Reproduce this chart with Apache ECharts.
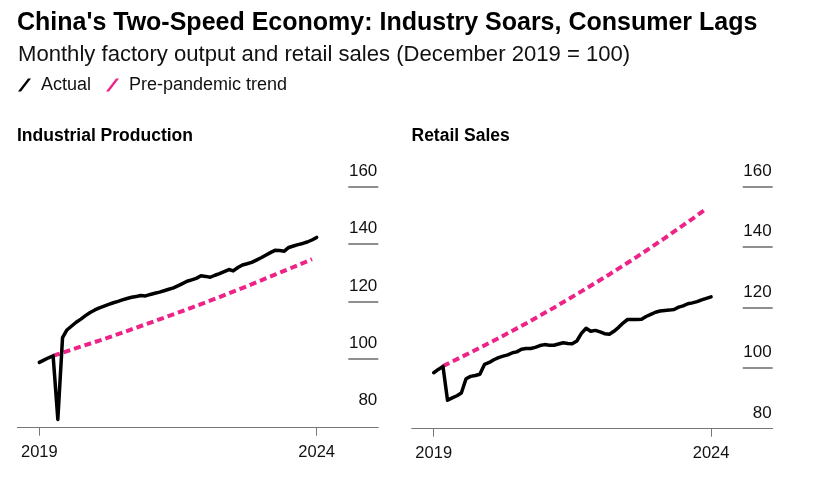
<!DOCTYPE html>
<html>
<head>
<meta charset="utf-8">
<script src="https://cdn.jsdelivr.net/npm/echarts@6/dist/echarts.min.js"></script>
<style>
  html, body { margin: 0; padding: 0; background: #fff; }
  #chart { width: 817px; height: 486px; }
</style>
</head>
<body>
<div id="chart"></div>
<script>
// ---- Data ----
const months = [
  '2019-09','2019-10','2019-11','2019-12',
  '2020-01','2020-02','2020-03','2020-04','2020-05','2020-06','2020-07','2020-08','2020-09','2020-10','2020-11','2020-12',
  '2021-01','2021-02','2021-03','2021-04','2021-05','2021-06','2021-07','2021-08','2021-09','2021-10','2021-11','2021-12',
  '2022-01','2022-02','2022-03','2022-04','2022-05','2022-06','2022-07','2022-08','2022-09','2022-10','2022-11','2022-12',
  '2023-01','2023-02','2023-03','2023-04','2023-05','2023-06','2023-07','2023-08','2023-09','2023-10','2023-11','2023-12',
  '2024-01','2024-02','2024-03','2024-04','2024-05','2024-06','2024-07','2024-08','2024-09'
];

const industrialActual = [
  98.7, 99.5, 100.3, 101.0,
  78.8, 107.3, 110.0, 111.4, 112.7, 113.8, 115.0, 116.1, 117.0, 117.7, 118.3, 118.9,
  119.5, 120.0, 120.5, 121.0, 121.4, 121.7, 122.0, 121.9, 122.4, 122.8, 123.2, 123.7,
  124.2, 124.7, 125.4, 126.2, 127.0, 127.5, 128.0, 128.9, 128.7, 128.4, 129.1, 129.7,
  130.4, 131.1, 130.6, 131.8, 132.7, 133.1, 133.6, 134.4, 135.2, 136.1, 137.0, 137.8,
  137.7, 137.5, 138.8, 139.3, 139.8, 140.2, 140.7, 141.4, 142.3
];

const retailActual = [
  98.5, 99.6, 100.6, 89.4,
  90.2, 90.9, 91.8, 96.5, 97.3, 97.6, 98.0, 101.3, 101.9, 102.8, 103.5, 104.0,
  104.4, 105.1, 105.4, 106.3, 106.5, 106.5, 106.9, 107.5, 107.8, 107.6, 107.6, 108.0,
  108.4, 108.2, 108.1, 109.0, 111.5, 113.2, 112.2, 112.5, 112.0, 111.4, 111.2, 112.2,
  113.5, 115.0, 116.1, 116.1, 116.1, 116.2, 117.1, 117.8, 118.5, 118.9, 119.1, 119.2,
  119.4, 120.2, 120.6, 121.3, 121.6, 122.0, 122.6, 123.1, 123.6
];

const industrialTrendMonths = ['2019-12','2020-06','2020-12','2021-06','2021-12','2022-06','2022-12','2023-06','2023-12','2024-06','2024-08'];
const industrialTrend       = [101.0, 104.2, 107.4, 110.8, 114.3, 117.8, 121.5, 125.3, 129.3, 133.3, 134.7];

const retailTrendMonths = ['2019-11','2020-05','2020-11','2021-05','2021-11','2022-05','2022-11','2023-05','2023-11','2024-05','2024-08'];
const retailTrend       = [100.7, 105.2, 109.9, 114.8, 120.0, 125.4, 131.0, 136.8, 143.0, 149.4, 152.7];

const xTickMonths = ['2019-09', '2024-09'];
const xTickLabels = ['2019', '2024'];
const yLabelValues = [80, 100, 120, 140, 160];
const yLineValues = [100, 120, 140, 160];

const titleText = "China's Two-Speed Economy: Industry Soars, Consumer Lags";
const subtitleText = 'Monthly factory output and retail sales (December 2019 = 100)';
const panelTitles = ['Industrial Production', 'Retail Sales'];
const seriesNames = ['Actual', 'Pre-pandemic trend'];

// ---- Helpers ----
function ts(m) {
  const [y, mo] = m.split('-').map(Number);
  return Date.UTC(y, mo - 1, 1);
}
function pairs(ms, vals) { return ms.map((m, i) => [ts(m), vals[i]]); }

const DAY = 86400000;
const firstT = ts(xTickMonths[0]);
const lastT = ts(xTickMonths[1]);
const xMin = firstT - 145 * DAY;
const xMax = lastT + 406 * DAY;

const FONT = "'Liberation Sans', Arial, Helvetica, sans-serif";
const BLACK = '#000000';
const PINK = '#ee2388';
const GREY = '#6b6b6b';

const tickLabelMap = {};
xTickMonths.forEach((m, i) => { tickLabelMap[ts(m)] = xTickLabels[i]; });

function xAxisCfg(gridIndex) {
  return {
    type: 'value',
    gridIndex,
    min: xMin,
    max: xMax,
    axisLine: { show: true, lineStyle: { color: '#777777', width: 1 } },
    axisTick: { show: true, customValues: xTickMonths.map(ts), length: 8, lineStyle: { color: '#777777', width: 1 } },
    axisLabel: {
      show: true,
      customValues: xTickMonths.map(ts),
      formatter: (v) => tickLabelMap[v] !== undefined ? tickLabelMap[v] : '',
      color: '#111',
      fontFamily: FONT,
      fontSize: 16.5,
      margin: 16
    },
    splitLine: { show: false }
  };
}

function yAxisCfg(gridIndex, min) {
  return {
    type: 'value',
    gridIndex,
    position: 'right',
    min,
    max: 160,
    axisLine: { show: false },
    axisTick: { show: true, inside: true, length: 30, customValues: yLineValues, lineStyle: { color: GREY, width: 1.5 } },
    axisLabel: {
      show: true,
      inside: true,
      customValues: yLabelValues,
      margin: 1,
      color: '#111',
      fontFamily: FONT,
      fontSize: 17,
      verticalAlign: 'bottom',
      padding: [0, 0, 7, 0]
    },
    splitLine: { show: false }
  };
}

function actualSeries(i, data) {
  return {
    name: seriesNames[0], type: 'line', xAxisIndex: i, yAxisIndex: i,
    data, showSymbol: false, symbol: 'none', z: 3,
    itemStyle: { color: BLACK },
    lineStyle: { color: BLACK, width: 3.5, join: 'round', cap: 'round' }
  };
}
function trendSeries(i, data) {
  return {
    name: seriesNames[1], type: 'line', xAxisIndex: i, yAxisIndex: i,
    data, showSymbol: false, symbol: 'none', z: 2,
    itemStyle: { color: PINK },
    lineStyle: { color: PINK, width: 4, type: [7, 4], cap: 'butt' }
  };
}

const slash = 'path://M0,13 L10,0 L13,0 L3,13 Z';

const option = {
  animation: false,
  backgroundColor: '#ffffff',
  title: [
    { text: titleText, left: 17, top: 11, padding: 0, textStyle: { fontFamily: FONT, fontSize: 25, fontWeight: 'bold', color: '#000' } },
    { text: subtitleText, left: 18, top: 44, padding: 0, textStyle: { fontFamily: FONT, fontSize: 22.1, fontWeight: 'normal', color: '#111' } },
    { text: panelTitles[0], left: 17, top: 127, padding: 0, textStyle: { fontFamily: FONT, fontSize: 17.5, fontWeight: 'bold', color: '#000' } },
    { text: panelTitles[1], left: 411.5, top: 127, padding: 0, textStyle: { fontFamily: FONT, fontSize: 17.5, fontWeight: 'bold', color: '#000' } }
  ],
  legend: {
    data: [
      { name: seriesNames[0], icon: slash, itemStyle: { color: BLACK } },
      { name: seriesNames[1], icon: slash, itemStyle: { color: PINK } }
    ],
    left: 18,
    top: 76,
    padding: 0,
    itemWidth: 13,
    itemHeight: 13,
    itemGap: 15,
    formatter: (n) => ' ' + n,
    textStyle: { fontFamily: FONT, fontSize: 18, color: '#111' },
    itemStyle: { borderWidth: 0 },
    lineStyle: { width: 0 },
    selectedMode: false
  },
  grid: [
    { left: 17.3, top: 186.7, width: 361, height: 241, containLabel: false },
    { left: 411.7, top: 186.7, width: 361, height: 242, containLabel: false }
  ],
  xAxis: [xAxisCfg(0), xAxisCfg(1)],
  yAxis: [yAxisCfg(0, 75.9), yAxisCfg(1, 80)],
  series: [
    trendSeries(0, pairs(industrialTrendMonths, industrialTrend)),
    actualSeries(0, pairs(months, industrialActual)),
    trendSeries(1, pairs(retailTrendMonths, retailTrend)),
    actualSeries(1, pairs(months, retailActual))
  ]
};

const chart = echarts.init(document.getElementById('chart'), null, { renderer: 'canvas' });
chart.setOption(option);
</script>
</body>
</html>
